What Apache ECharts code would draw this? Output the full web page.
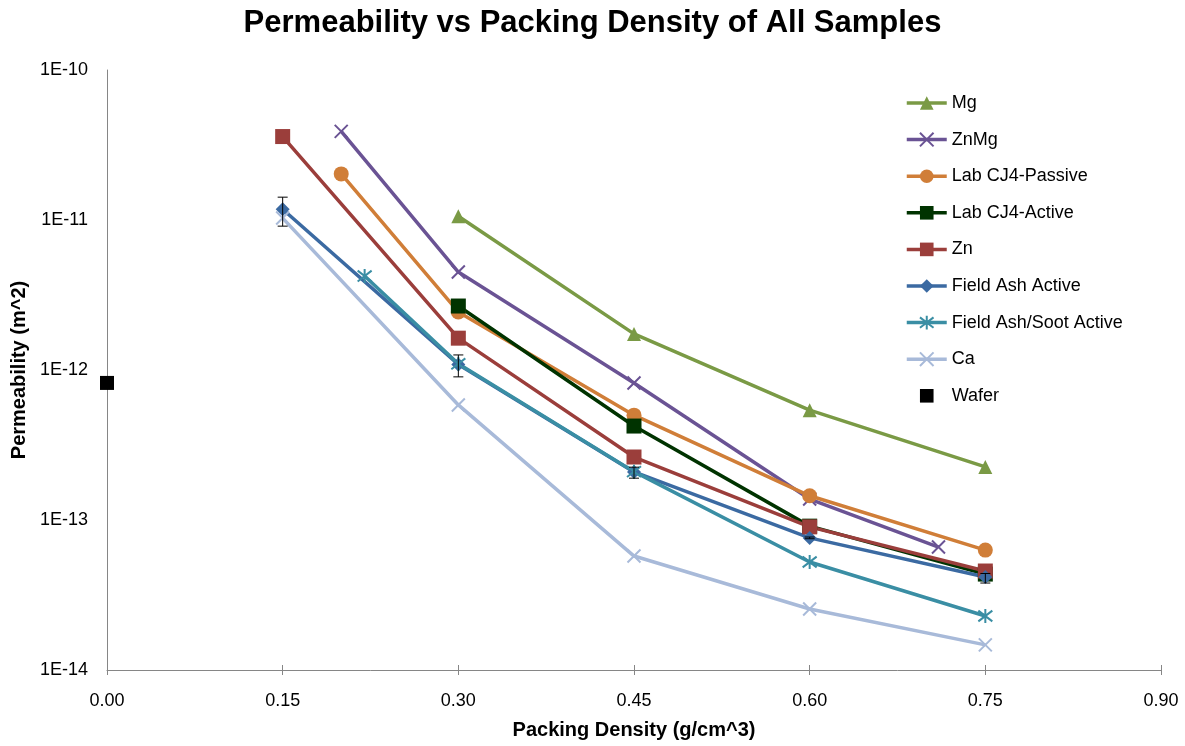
<!DOCTYPE html>
<html><head><meta charset="utf-8">
<script src="https://cdn.jsdelivr.net/npm/echarts@6/dist/echarts.min.js"></script>
<style>html,body{margin:0;padding:0;background:#fff}#c{width:1185px;height:746px}</style>
</head><body><div id="c"></div>
<script>
const xTicks = [0, 0.15, 0.30, 0.45, 0.60, 0.75, 0.90];
const mgX = [0.30, 0.45, 0.60, 0.75];
const mgY = [1.06e-11, 1.74e-12, 5.4e-13, 2.26e-13];
const znmgX = [0.20, 0.30, 0.45, 0.60, 0.71];
const znmgY = [3.9e-11, 4.5e-12, 8.2e-13, 1.38e-13, 6.6e-14];
const passiveX = [0.20, 0.30, 0.45, 0.60, 0.75];
const passiveY = [2.03e-11, 2.44e-12, 5.0e-13, 1.45e-13, 6.3e-14];
const activeX = [0.30, 0.45, 0.60, 0.75];
const activeY = [2.67e-12, 4.23e-13, 9.1e-14, 4.36e-14];
const znX = [0.15, 0.30, 0.45, 0.60, 0.75];
const znY = [3.6e-11, 1.63e-12, 2.63e-13, 9.0e-14, 4.57e-14];
const faaX = [0.15, 0.30, 0.45, 0.60, 0.75];
const faaY = [1.18e-11, 1.09e-12, 2.09e-13, 7.6e-14, 4.17e-14];
const faaErrLow = [9.1e-12, 9.0e-13, 1.9e-13, 7.5e-14, 3.8e-14];
const faaErrHigh = [1.42e-11, 1.26e-12, 2.25e-13, 7.7e-14, 4.4e-14];
const fasaX = [0.22, 0.30, 0.45, 0.60, 0.75];
const fasaY = [4.23e-12, 1.1e-12, 2.1e-13, 5.25e-14, 2.29e-14];
const caX = [0.15, 0.30, 0.45, 0.60, 0.75];
const caY = [1.03e-11, 5.85e-13, 5.75e-14, 2.55e-14, 1.47e-14];
const waferX = [0.00];
const waferY = [8.2e-13];

const pair = (xs, ys) => xs.map((x, i) => [x, ys[i]]);
const FONT = 'Liberation Sans';
const X_SYM = 'path://M0,0L10,10M10,0L0,10';
const AST_SYM = 'path://M0,0L10,10M10,0L0,10M5,-1.5L5,11.5';

function lineSeries(name, data, color, symbol, size, stroke) {
  const s = {
    name, type: 'line', data, symbol, symbolSize: size,
    lineStyle: { color, width: 3.5 },
    itemStyle: { color },
    emphasis: { disabled: true }
  };
  if (stroke) s.itemStyle = { color, borderColor: color, borderWidth: 2 };
  return s;
}

const chart = echarts.init(document.getElementById('c'), null, { renderer: 'canvas' });
chart.setOption({
  animation: false,
  title: {
    text: 'Permeability vs Packing Density of All Samples',
    left: 'center', top: 3,
    textStyle: { fontFamily: FONT, fontWeight: 'bold', fontSize: 31, color: '#000' }
  },
  grid: { left: 107, right: 24, top: 70, bottom: 76, outerBoundsMode: 'none' },
  legend: {
    orient: 'vertical', left: 900, top: 89,
    itemWidth: 40, itemHeight: 17, itemGap: 18.6,
    lineStyle: { width: 3.5 },
    textStyle: { fontFamily: FONT, fontSize: 18, color: '#000', lineHeight: 18 },
    data: ['Mg', 'ZnMg', 'Lab CJ4-Passive', 'Lab CJ4-Active', 'Zn', 'Field Ash Active', 'Field Ash/Soot Active', 'Ca', 'Wafer']
  },
  xAxis: [{
    type: 'value', min: 0, max: 0.9, interval: 0.15,
    name: 'Packing Density (g/cm^3)', nameLocation: 'middle', nameGap: 50,
    nameTextStyle: { fontFamily: FONT, fontWeight: 'bold', fontSize: 20, color: '#000' },
    axisLine: { lineStyle: { color: '#868686', width: 1 } },
    axisTick: { show: true, length: 5, lineStyle: { color: '#868686' } },
    axisLabel: { fontFamily: FONT, fontSize: 18, color: '#000', margin: 22, formatter: v => v.toFixed(2) },
    splitLine: { show: false }
  }, {
    type: 'value', min: 0, max: 0.9, interval: 0.15, position: 'bottom',
    axisLine: { show: false },
    axisTick: { show: true, inside: true, length: 5, lineStyle: { color: '#868686' } },
    axisLabel: { show: false }, splitLine: { show: false }
  }],
  yAxis: {
    type: 'log', logBase: 10, min: 1e-14, max: 1e-10,
    name: 'Permeability (m^2)', nameLocation: 'middle', nameGap: 76, nameRotate: 90,
    nameTextStyle: { fontFamily: FONT, fontWeight: 'bold', fontSize: 20, color: '#000' },
    axisLine: { show: true, lineStyle: { color: '#868686', width: 1 } },
    axisTick: { show: false },
    axisLabel: { fontFamily: FONT, fontSize: 18, color: '#000', margin: 19,
      formatter: v => '1E' + Math.round(Math.log10(v)) },
    splitLine: { show: false }
  },
  series: [
    lineSeries('Mg', pair(mgX, mgY), '#7a9a45', 'triangle', 14),
    lineSeries('ZnMg', pair(znmgX, znmgY), '#6a5394', X_SYM, 13, true),
    lineSeries('Lab CJ4-Passive', pair(passiveX, passiveY), '#d07e38', 'circle', 15),
    lineSeries('Lab CJ4-Active', pair(activeX, activeY), '#003300', 'rect', 15),
    lineSeries('Zn', pair(znX, znY), '#9b3e3b', 'rect', 15),
    lineSeries('Field Ash Active', pair(faaX, faaY), '#3b6aa2', 'diamond', 14),
    lineSeries('Field Ash/Soot Active', pair(fasaX, fasaY), '#3a8ea4', AST_SYM, 14, true),
    lineSeries('Ca', pair(caX, caY), '#a8bad9', X_SYM, 13, true),
    { name: 'Wafer', type: 'line', data: pair(waferX, waferY), symbol: 'rect', symbolSize: 14,
      itemStyle: { color: '#000' }, lineStyle: { color: '#000', width: 0, opacity: 0 },
      emphasis: { disabled: true } },
    {
      name: 'FAA error', type: 'custom', z: 5,
      data: faaX.map((x, i) => [x, faaErrLow[i], faaErrHigh[i]]),
      renderItem: (params, api) => {
        const lo = api.coord([api.value(0), api.value(1)]);
        const hi = api.coord([api.value(0), api.value(2)]);
        const w = 5;
        const st = { stroke: '#000', lineWidth: 1 };
        return { type: 'group', children: [
          { type: 'line', shape: { x1: lo[0], y1: lo[1], x2: hi[0], y2: hi[1] }, style: st },
          { type: 'line', shape: { x1: lo[0] - w, y1: lo[1], x2: lo[0] + w, y2: lo[1] }, style: st },
          { type: 'line', shape: { x1: hi[0] - w, y1: hi[1], x2: hi[0] + w, y2: hi[1] }, style: st }
        ]};
      }
    }
  ]
});
</script></body></html>
